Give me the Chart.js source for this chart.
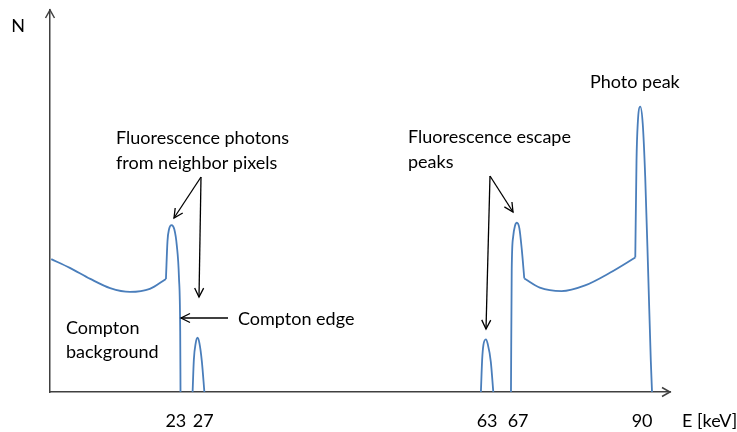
<!DOCTYPE html>
<html>
<head>
<meta charset="utf-8">
<title>Detector spectrum</title>
<script src="https://cdn.jsdelivr.net/npm/chart.js@4.4.1/dist/chart.umd.min.js"></script>
<style>
  html, body { margin: 0; padding: 0; background: #fff; }
  #wrap { width: 737px; height: 432px; }
</style>
</head>
<body>
<div id="wrap"><canvas id="spectrum"></canvas></div>
<script>
// x = position along the (schematic, not to scale) energy axis, 0..100
// N = counts, 0..100 (arbitrary)

// Compton background below the 23 keV line
const bgLowX = [0.2, 3.2, 6.5, 9.7, 12.9, 16.1, 18.7];
const bgLowN = [34.8, 32.5, 29.6, 27.2, 26.2, 27.0, 29.6];

// 23 keV fluorescence peak and Compton edge
const peak23X = [18.7, 18.95, 19.2, 19.6, 20.05, 20.45, 20.8, 21.0, 21.05];
const peak23N = [29.6, 39.5, 42.6, 43.7, 42.6, 38.4, 30.0, 16.0, 0];

// 27 keV fluorescence photons from neighbour pixels
const fluo27X = [23.0, 23.2, 23.5, 23.8, 24.1, 24.5, 24.9];
const fluo27N = [0, 8.4, 12.8, 14.2, 12.8, 7.9, 0];

// 63 keV escape peak
const esc63X = [69.5, 69.7, 69.9, 70.3, 70.6, 71.1, 71.5];
const esc63N = [0, 8.4, 12.3, 13.8, 12.6, 7.9, 0];

// 67 keV escape peak
const esc67X = [74.35, 74.47, 74.7, 75.0, 75.3, 75.7, 76.1, 76.5];
const esc67N = [0, 31.9, 40.6, 43.5, 44.3, 42.9, 37.2, 29.7];

// Compton background up to the photo peak
const bgHighX = [76.5, 79.0, 82.5, 86.3, 90.3, 94.4];
const bgHighN = [29.7, 27.3, 26.4, 27.9, 31.2, 35.2];

// 90 keV photo peak
const photoX = [94.4, 94.6, 94.8, 95.2, 95.6, 96.0, 96.5, 96.9, 97.1];
const photoN = [35.2, 60.7, 70.3, 74.7, 70.3, 56.4, 30.2, 8.4, 0];

const tickPos = [20.3, 24.7, 70.5, 75.5, 95.5];
const tickLabels = ['23', '27', '63', '67', '90'];

const FONT = 'Lato, "Open Sans", sans-serif';
const LINE = '#4a7ebb';
const AXIS = '#404040';

function toPoints(xs, ns) {
    return xs.map((x, i) => ({ x: x, y: ns[i] }));
}

function segment(xs, ns) {
    return {
        data: toPoints(xs, ns),
        borderColor: LINE,
        borderWidth: 1.8,
        pointRadius: 0,
        fill: false,
        cubicInterpolationMode: 'monotone'
    };
}

// text and pointer arrows drawn on top of the chart
const notes = [
    { text: 'N', x: 18, y: 26, align: 'center' },
    { text: 'Fluorescence photons', x: 116, y: 138, align: 'left' },
    { text: 'from neighbor pixels', x: 116, y: 163, align: 'left' },
    { text: 'Compton edge', x: 238, y: 319, align: 'left' },
    { text: 'Compton', x: 66, y: 328, align: 'left' },
    { text: 'background', x: 66, y: 352, align: 'left' },
    { text: 'Fluorescence escape', x: 408, y: 137, align: 'left' },
    { text: 'peaks', x: 408, y: 162, align: 'left' },
    { text: 'Photo peak', x: 590, y: 82, align: 'left' },
    { text: 'E [keV]', x: 682, y: 421, align: 'left' }
];
const pointers = [
    [201, 177, 174, 218],
    [201, 177, 199, 297],
    [228, 318, 181, 318],
    [490, 176, 486, 329],
    [490, 176, 513, 212]
];

function arrowHead(ctx, x0, y0, x1, y1, len, half) {
    const a = Math.atan2(y1 - y0, x1 - x0);
    const s = Math.atan2(half, len);
    const l = Math.hypot(len, half);
    ctx.beginPath();
    ctx.moveTo(x1 - l * Math.cos(a - s), y1 - l * Math.sin(a - s));
    ctx.lineTo(x1, y1);
    ctx.lineTo(x1 - l * Math.cos(a + s), y1 - l * Math.sin(a + s));
    ctx.stroke();
}

const overlay = {
    id: 'overlay',
    afterDraw(chart) {
        const ctx = chart.ctx;
        const area = chart.chartArea;
        ctx.save();
        // arrow tips on the axes
        ctx.strokeStyle = AXIS;
        ctx.lineWidth = 1.5;
        arrowHead(ctx, area.left, area.bottom, area.left, area.top, 8, 4.5);
        arrowHead(ctx, area.left, area.bottom, area.right, area.bottom, 8, 4.5);

        ctx.strokeStyle = '#000';
        ctx.lineWidth = 1.3;
        pointers.forEach(p => {
            ctx.beginPath();
            ctx.moveTo(p[0], p[1]);
            ctx.lineTo(p[2], p[3]);
            ctx.stroke();
            arrowHead(ctx, p[0], p[1], p[2], p[3], 9, 4.5);
        });

        ctx.fillStyle = '#000';
        ctx.font = '18px ' + FONT;
        ctx.textBaseline = 'middle';
        notes.forEach(n => {
            ctx.textAlign = n.align;
            ctx.fillText(n.text, n.x, n.y);
        });
        ctx.restore();
    }
};

new Chart(document.getElementById('spectrum'), {
    type: 'line',
    data: {
        datasets: [
            segment(bgLowX, bgLowN),
            segment(peak23X, peak23N),
            segment(fluo27X, fluo27N),
            segment(esc63X, esc63N),
            segment(esc67X, esc67N),
            segment(bgHighX, bgHighN),
            segment(photoX, photoN)
        ]
    },
    options: {
        responsive: true,
        maintainAspectRatio: false,
        animation: false,
        events: [],
        layout: { padding: { left: 50, right: 67, top: 10, bottom: 0 } },
        plugins: {
            legend: { display: false },
            tooltip: { enabled: false }
        },
        scales: {
            x: {
                type: 'linear',
                min: 0,
                max: 100,
                grid: { display: false, drawTicks: false },
                border: { display: true, color: AXIS, width: 1.5 },
                afterBuildTicks(scale) {
                    scale.ticks = tickPos.map(v => ({ value: v }));
                },
                afterFit(scale) {
                    scale.height = 40;
                },
                ticks: {
                    autoSkip: false,
                    maxRotation: 0,
                    padding: 18,
                    color: '#000',
                    font: { family: FONT, size: 18 },
                    callback: (value, index) => tickLabels[index]
                }
            },
            y: {
                min: 0,
                max: 100,
                grid: { display: false, drawTicks: false },
                border: { display: true, color: AXIS, width: 1.5 },
                ticks: { display: false },
                afterFit(scale) {
                    scale.width = 0;
                }
            }
        }
    },
    plugins: [overlay]
});
</script>
</body>
</html>
